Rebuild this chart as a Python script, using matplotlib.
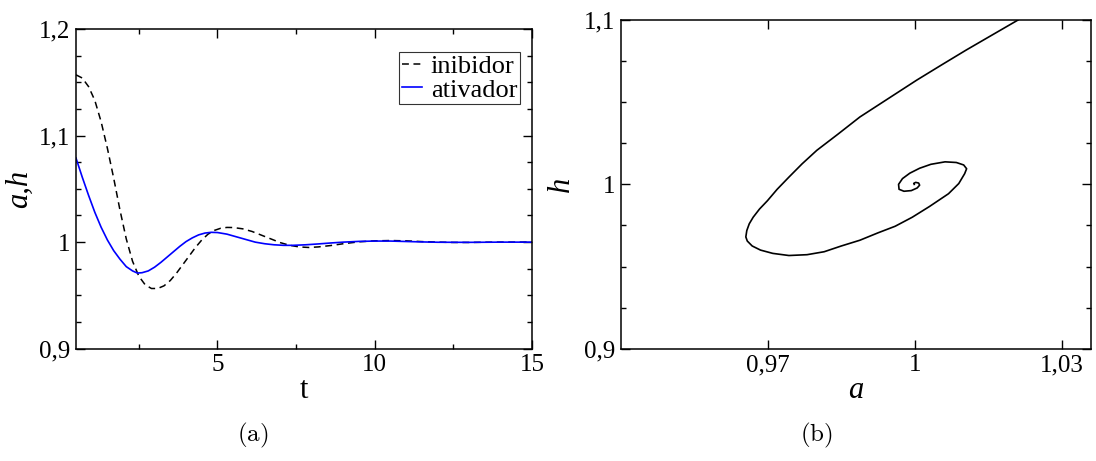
import numpy as np
import matplotlib.pyplot as plt
from matplotlib import ticker

# time series: inibidor h(t)
t_h = [0.5, 0.7, 0.9, 1.1, 1.3, 1.5, 1.7, 1.9, 2.1, 2.3, 2.5, 2.7, 2.9, 3.1, 3.3, 3.5, 3.7,
       3.9, 4.1, 4.3, 4.5, 4.7, 4.9, 5.1, 5.3, 5.5, 5.8, 6.1, 6.4, 6.7, 7.0, 7.3, 7.6,
       7.9, 8.2, 8.6, 9.0, 9.5, 10.0, 10.5, 11.0, 11.5, 12.0, 12.5, 13.0, 13.5, 14.0, 15.0]
h_t = [1.157, 1.154, 1.146, 1.133, 1.113, 1.088, 1.060, 1.030, 1.003, 0.982, 0.968, 0.960, 0.9565, 0.9565, 0.959, 0.964, 0.971,
       0.979, 0.987, 0.995, 1.002, 1.0075, 1.011, 1.013, 1.0138, 1.0137, 1.0125, 1.010, 1.0065, 1.003, 0.9995, 0.997, 0.9955,
       0.995, 0.9955, 0.9968, 0.9985, 1.0003, 1.0012, 1.0015, 1.0012, 1.0005, 1.0, 0.9997, 0.9997, 0.9999, 1.0, 1.0]

# time series: ativador a(t)
t_a = [0.5, 0.7, 0.9, 1.1, 1.3, 1.5, 1.7, 1.9, 2.1, 2.3, 2.45, 2.6, 2.8, 3.0, 3.2, 3.4, 3.6,
       3.8, 4.0, 4.2, 4.4, 4.6, 4.8, 5.0, 5.3, 5.6, 5.9, 6.2, 6.5, 6.8, 7.1, 7.4, 7.8,
       8.2, 8.6, 9.0, 9.5, 10.0, 10.5, 11.0, 11.5, 12.0, 13.0, 14.0, 15.0]
a_t = [1.079, 1.061, 1.044, 1.028, 1.014, 1.002, 0.992, 0.984, 0.977, 0.973, 0.971, 0.9713, 0.973, 0.9765, 0.981, 0.986, 0.991,
       0.996, 1.0005, 1.004, 1.0068, 1.0085, 1.0092, 1.009, 1.0075, 1.005, 1.0025, 1.0, 0.9985, 0.9975, 0.997, 0.997, 0.9975,
       0.9983, 0.9992, 1.0, 1.0007, 1.001, 1.001, 1.0006, 1.0002, 0.9999, 0.9998, 1.0, 1.0]

# phase plane trajectory (a, h)
a_ph = [1.0211, 1.0160, 1.0105, 1.0055, 1.0004, 0.9946, 0.9888, 0.9843, 0.9800, 0.9770,
        0.9743, 0.9719, 0.9699, 0.9683, 0.9670, 0.9662, 0.9657, 0.9655, 0.9658, 0.9668,
        0.9685, 0.9710, 0.9743, 0.9780, 0.9815, 0.9850, 0.9888, 0.9925, 0.9960, 0.9995,
        1.0030, 1.0069, 1.0090, 1.0102, 1.0106, 1.0100, 1.0085, 1.0062, 1.0033, 1.0010,
        0.9990, 0.9975, 0.9967, 0.9968, 0.9978, 0.9993, 1.0005, 1.0010, 1.0008, 1.0002,
        0.9998, 0.9999]
h_ph = [1.1000, 1.0912, 1.0817, 1.0727, 1.0634, 1.0522, 1.0410, 1.0305, 1.0207, 1.0125,
        1.0044, 0.9970, 0.9900, 0.9850, 0.9800, 0.9760, 0.9719, 0.9680, 0.9655, 0.9625,
        0.9600, 0.9580, 0.9567, 0.9572, 0.9590, 0.9625, 0.9660, 0.9705, 0.9745, 0.9800,
        0.9865, 0.9943, 1.0005, 1.0065, 1.0095, 1.0118, 1.0133, 1.0137, 1.0122, 1.0098,
        1.0068, 1.0035, 1.0000, 0.9970, 0.9958, 0.9962, 0.9978, 0.9995, 1.0008, 1.0012,
        1.0006, 1.0000]

plt.rcParams['font.family'] = ['Liberation Serif', 'DejaVu Serif']
plt.rcParams['mathtext.fontset'] = 'cm'

comma = ticker.FuncFormatter(lambda v, p: f'{v:g}'.replace('.', ','))

fig = plt.figure(figsize=(10.96, 4.61), dpi=100)
ax1 = fig.add_axes([0.0693, 0.2436, 0.4161, 0.6935])
ax2 = fig.add_axes([0.5666, 0.2436, 0.4288, 0.7130])

for ax in (ax1, ax2):
    ax.tick_params(which='both', direction='in', top=True, right=True, labelsize=18, width=1.0)
    ax.tick_params(which='major', length=6.5, pad=4)
    ax.tick_params(which='minor', length=3.5)
    for s in ax.spines.values():
        s.set_linewidth(1.1)
    ax.yaxis.set_major_formatter(comma)
    ax.xaxis.set_major_formatter(comma)

# (a) time series
ax1.plot(t_h, h_t, color='black', ls='--', lw=1.1, dashes=(4.5, 3), label='inibidor')
ax1.plot(t_a, a_t, color='blue', lw=1.2, label='ativador')
ax1.set_xlim(0.5, 15)
ax1.set_ylim(0.9, 1.2)
ax1.set_xticks([5, 10, 15])
ax1.xaxis.set_minor_locator(ticker.MultipleLocator(2.5))
ax1.set_yticks([0.9, 1.0, 1.1, 1.2])
ax1.yaxis.set_minor_locator(ticker.MultipleLocator(0.025))
ax1.set_xlabel('t', fontsize=22, labelpad=0)
ax1.set_ylabel('a,h', fontsize=22, style='italic', labelpad=4)
leg = ax1.legend(loc='upper right', bbox_to_anchor=(0.9737, 0.928), fontsize=19, frameon=True,
                 fancybox=False, handlelength=0.75, handletextpad=0.35, borderpad=0.1,
                 labelspacing=0.0, borderaxespad=0.0)
leg.get_frame().set_edgecolor('black')
leg.get_frame().set_linewidth(0.8)

# (b) phase plane
ax2.plot(a_ph, h_ph, color='black', lw=1.2)
ax2.set_xlim(0.94, 1.036)
ax2.set_ylim(0.9, 1.1)
ax2.set_xticks([0.97, 1.0, 1.03])
ax2.set_yticks([0.9, 1.0, 1.1])
ax2.yaxis.set_minor_locator(ticker.MultipleLocator(0.025))
ax2.set_xlabel('a', fontsize=22, style='italic', labelpad=0)
ax2.set_ylabel('h', fontsize=22, style='italic', labelpad=6)

fig.text(0.231, 0.055, r'$\mathrm{(a)}$', fontsize=18, ha='center', va='center')
fig.text(0.745, 0.055, r'$\mathrm{(b)}$', fontsize=18, ha='center', va='center')

plt.savefig('out.png', dpi=100)
